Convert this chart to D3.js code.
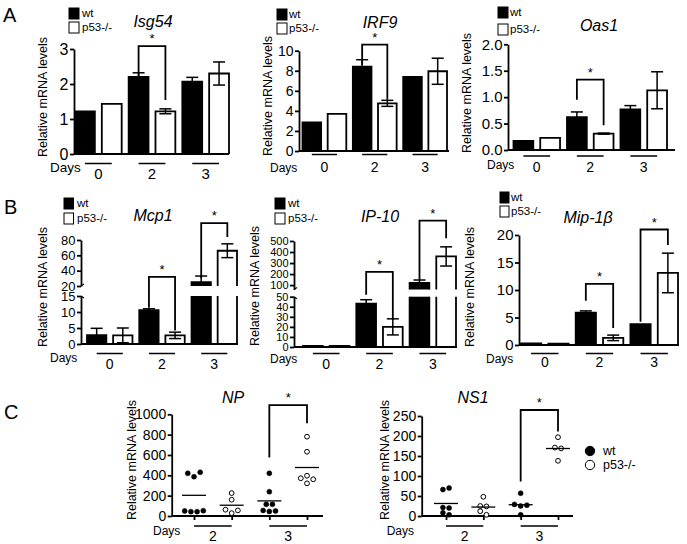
<!DOCTYPE html>
<html><head><meta charset="utf-8">
<script src="https://cdn.jsdelivr.net/npm/d3@7"></script>
<style>
body{margin:0;background:#fff}
svg{display:block}
text{font-family:'Liberation Sans',Arial,Helvetica,sans-serif;fill:#000}
</style>
</head><body>
<svg id="c" width="687" height="544"></svg>
<script>
// ================= DATA =================
const days = ["0", "2", "3"];
const genotypes = ["wt", "p53-/-"];
const yLabel = "Relative mRNA levels";

// Panel A
const isg54Wt = [1.22, 2.20, 2.07], isg54WtErr = [0, 0.12, 0.12];
const isg54Ko = [1.43, 1.22, 2.30], isg54KoErr = [0, 0.07, 0.33];
const isg54Ticks = [0, 1, 2, 3];
const isg54Sig = [[1, 3.08, 2.2, 1.54]]; // [day index, bracket top, wt leg end, ko leg end]

const irf9Wt = [2.85, 8.4, 7.4], irf9WtErr = [0, 0.7, 0];
const irf9Ko = [3.7, 4.75, 7.95], irf9KoErr = [0, 0.3, 1.3];
const irf9Ticks = [0, 2, 4, 6, 8, 10];
const irf9Sig = [[1, 10.6, 8.6, 5.1]];

const oas1Wt = [0.17, 0.62, 0.77], oas1WtErr = [0, 0.1, 0.07];
const oas1Ko = [0.23, 0.31, 1.13], oas1KoErr = [0, 0.01, 0.35];
const oas1Ticks = [0, 0.5, 1.0, 1.5, 2.0];
const oas1Sig = [[1, 1.33, 0.95, 0.47]];

// Panel B
const mcp1Wt = [2.8, 10.6, 25], mcp1WtErr = [2.1, 0.4, 8];
const mcp1Ko = [2.7, 2.7, 66], mcp1KoErr = [2.3, 1.0, 9];
const mcp1TicksLow = [0, 5, 10, 15], mcp1TicksHigh = [20, 40, 60, 80];
const mcp1Sig = [[1, 32, 11.3, 4.2], [2, 102, 30, 84]];

const ip10Wt = [1, 43, 121], ip10WtErr = [0, 4, 25];
const ip10Ko = [1, 20, 360], ip10KoErr = [0, 8, 87];
const ip10TicksLow = [0, 10, 20, 30, 40, 50], ip10TicksHigh = [100, 200, 300, 400, 500];
const ip10Sig = [[1, 220, 52, 27], [2, 684, 146, 525]];

const mip1bWt = [0.3, 5.9, 3.8], mip1bWtErr = [0, 0.3, 0];
const mip1bKo = [0.25, 1.3, 13.1], mip1bKoErr = [0, 0.5, 3.6];
const mip1bTicks = [0, 5, 10, 15, 20];
const mip1bSig = [[1, 11.1, 8.05, 3.1], [2, 21.0, 4.24, 18.2]];

// Panel C (individual animals)
const cDays = ["2", "3"];
const npWtD2 = [420, 387, 430, 49, 43, 43, 52];
const npKoD2 = [225, 160, 62, 28, 55];
const npWtD3 = [420, 239, 115, 115, 55, 45, 50];
const npKoD3 = [780, 632, 371, 396, 361, 321];
const npTicks = [0, 200, 400, 600, 800, 1000];
const npSig = [1091, 574, 911];

const ns1WtD2 = [66, 70, 21, 20, 8, 3];
const ns1KoD2 = [48, 25, 24, 12, 3];
const ns1WtD3 = [57, 29, 25, 27, 3];
const ns1KoD3 = [197, 171, 169, 138];
const ns1Ticks = [0, 50, 100, 150, 200, 250];
const ns1Sig = [265, 86, 211];

// ================= DRAWING =================
const svg = d3.select("#c");
const SW = 1.8;

function txt(g, x, y, s, o = {}) {
  return g.append("text").attr("x", x).attr("y", y).text(s)
    .attr("font-size", o.size || 12)
    .attr("text-anchor", o.anchor || "start")
    .attr("font-style", o.italic ? "italic" : null);
}
function line(g, x1, y1, x2, y2, w = SW) {
  return g.append("line").attr("x1", x1).attr("y1", y1).attr("x2", x2).attr("y2", y2)
    .attr("stroke", "#000").attr("stroke-width", w);
}
function yAxis(g, x, scale, ticks, size, fmt) {
  const a = g.append("g").attr("transform", `translate(${x},0)`)
    .call(d3.axisLeft(scale).tickValues(ticks).tickSize(4).tickSizeOuter(0).tickPadding(1.5)
      .tickFormat(fmt || (d => d)));
  a.attr("font-family", null).attr("font-size", size);
  a.select(".domain").attr("stroke-width", SW);
  a.selectAll(".tick line").attr("stroke-width", SW);
  a.selectAll(".tick text").attr("fill", "#000");
  return a;
}
function yTitle(g, x, y, size) {
  g.append("text").attr("transform", `translate(${x},${y}) rotate(-90)`)
    .attr("text-anchor", "middle").attr("font-size", size || 12.5).text(yLabel);
}

function barPanel(p, d) {
  const g = svg.append("g");
  const x = d3.scaleBand().domain(d3.range(6)).range(p.band).paddingInner(0.26).paddingOuter(0);
  const bw = x.bandwidth();
  const cx = k => x(k) + bw / 2;
  const segs = p.segs.map(s => ({ lo: s.domain[0], hi: s.domain[1],
    y: d3.scaleLinear().domain(s.domain).range(s.range), ticks: s.ticks }));
  const Y = v => (segs.length === 1 || v < segs[1].lo) ? segs[0].y(v) : segs[1].y(v);
  const segOf = v => (segs.length === 1 || v < segs[1].lo) ? segs[0] : segs[1];

  const bars = [];
  days.forEach((dd, i) => {
    bars.push({ k: 2 * i, v: d.wt[i], e: d.wtErr[i], fill: "#000" });
    bars.push({ k: 2 * i + 1, v: d.ko[i], e: d.koErr[i], fill: "#fff" });
  });

  segs.forEach(s => {
    bars.filter(b => b.v > s.lo).forEach(b => {
      const top = Math.min(b.v, s.hi), cut = b.v > s.hi;
      const y0 = s.y(s.lo), y1 = s.y(top), xl = x(b.k), xr = x(b.k) + bw;
      g.append("rect").attr("x", xl).attr("y", y1).attr("width", bw).attr("height", y0 - y1)
        .attr("fill", b.fill);
      const path = cut ? `M${xl},${y0}V${y1}M${xr},${y1}V${y0}` : `M${xl},${y0}V${y1}H${xr}V${y0}`;
      g.append("path").attr("d", path).attr("fill", "none").attr("stroke", "#000").attr("stroke-width", SW);
    });
  });
  bars.filter(b => b.e > 0).forEach(b => {
    const s = segOf(b.v);
    const lo = Math.max(b.v - b.e, s.lo), hi = b.v + b.e, c = cx(b.k);
    line(g, c, Y(lo), c, Y(hi), 1.5);
    line(g, c - 6, Y(hi), c + 6, Y(hi), 1.5);
    if (b.v - b.e >= s.lo) line(g, c - 6, Y(lo), c + 6, Y(lo), 1.5);
  });

  segs.forEach((s, si) => {
    yAxis(g, p.axisX, s.y, s.ticks, p.tickFont, p.fmt);
    if (segs.length > 1) {
      const yb = si === 0 ? s.y(s.hi) : s.y(s.lo);
      line(g, p.axisX, yb, p.axisX + 3, yb + (si === 0 ? 2 : -2), 1.2);
    }
  });
  line(g, p.axisX, segs[0].y(0), p.axisEnd, segs[0].y(0));

  d.sig.forEach(([di, top, le, re]) => {
    const xl = cx(2 * di), xr = cx(2 * di + 1);
    g.append("path").attr("d", `M${xl},${Y(le)}V${Y(top)}H${xr}V${Y(re)}`)
      .attr("fill", "none").attr("stroke", "#000").attr("stroke-width", SW);
    txt(g, (xl + xr) / 2, Y(top) - 3, "*", { size: 13, anchor: "middle" });
  });

  days.forEach((dd, i) => {
    const xl = cx(2 * i), xr = cx(2 * i + 1);
    line(g, xl, p.ulY, xr, p.ulY, 1.5);
    txt(g, (xl + xr) / 2, p.dnY, dd, { size: p.dayFont, anchor: "middle" });
  });
  txt(g, p.daysX, p.daysY, "Days", { size: p.daysFont });

  txt(g, p.titleX, p.titleY, p.title, { size: 16, anchor: "middle", italic: true });
  yTitle(g, p.ylX, p.ylY, 12.5);
  const L = p.legend;
  genotypes.forEach((gt, i) => {
    g.append("rect").attr("x", L.x).attr("y", L.ys[i]).attr("width", L.w).attr("height", 11)
      .attr("fill", i === 0 ? "#000" : "#fff").attr("stroke", "#000").attr("stroke-width", 1);
    txt(g, L.tx, L.ys[i] + 9, gt, { size: 11.5 });
  });
}

function dotPanel(p, groups, sig) {
  const g = svg.append("g");
  const y = d3.scaleLinear().domain(p.yDomain).range(p.yRange);
  const pos = d3.scalePoint().domain(d3.range(4)).range(p.xRange);

  yAxis(g, p.axisX, y, p.ticks, 14);
  const xa = g.append("g").attr("transform", `translate(0,${y(0)})`)
    .call(d3.axisBottom(pos).tickSize(4).tickFormat(""));
  xa.select(".domain").remove();
  xa.selectAll(".tick line").attr("stroke-width", SW);
  line(g, p.axisX, y(0), p.axisEnd, y(0));

  groups.forEach((vals, gi) => {
    const filled = gi % 2 === 0;
    const pts = vals.map((v, i) => ({ v, i, py: y(v) }));
    const rows = []; let cur = null;
    pts.slice().sort((a, b) => a.py - b.py).forEach(pt => {
      if (!cur || pt.py - cur[0].py > 4.5) { cur = [pt]; rows.push(cur); } else cur.push(pt);
    });
    rows.forEach(r => { r.sort((a, b) => a.i - b.i); r.forEach((pt, k) => pt.dx = (k - (r.length - 1) / 2) * 6.2); });
    g.selectAll(null).data(pts).join("circle")
      .attr("cx", d => pos(gi) + d.dx).attr("cy", d => d.py)
      .attr("r", filled ? 2.5 : 2.4)
      .attr("fill", filled ? "#000" : "#fff").attr("stroke", "#000").attr("stroke-width", filled ? 0.5 : 1);
    const m = y(d3.mean(vals));
    line(g, pos(gi) - 12, m, pos(gi) + 12, m, 1.3);
  });

  const [top, le, re] = sig, xl = pos(2), xr = pos(3);
  g.append("path").attr("d", `M${xl},${y(le)}V${y(top)}H${xr}V${y(re)}`)
    .attr("fill", "none").attr("stroke", "#000").attr("stroke-width", SW);
  txt(g, (xl + xr) / 2, y(top) - 3, "*", { size: 13, anchor: "middle" });

  cDays.forEach((dd, i) => {
    const a = pos(2 * i), b = pos(2 * i + 1);
    line(g, a, p.ulY, b, p.ulY, 1.5);
    txt(g, (a + b) / 2, p.dnY, dd, { size: 14, anchor: "middle" });
  });
  txt(g, p.daysX, p.daysY, "Days", { size: 12 });
  txt(g, p.titleX, p.titleY, p.title, { size: 16, anchor: "middle", italic: true });
  yTitle(g, p.ylX, p.ylY, 12.5);
}

// panel letters
txt(svg, 3, 22, "A", { size: 20 });
txt(svg, 4, 214, "B", { size: 20 });
txt(svg, 4, 419, "C", { size: 20 });

barPanel({ axisX: 74, band: [75, 229], axisEnd: 229,
  segs: [{ domain: [0, 3], range: [154, 49], ticks: isg54Ticks }], tickFont: 16,
  title: "Isg54", titleX: 153, titleY: 27, ylX: 47, ylY: 97,
  daysX: 50, daysY: 172, daysFont: 13.5, ulY: 163.5, dnY: 179, dayFont: 15,
  legend: { x: 69, w: 10, ys: [8, 22], tx: 82 } },
  { wt: isg54Wt, wtErr: isg54WtErr, ko: isg54Ko, koErr: isg54KoErr, sig: isg54Sig });

barPanel({ axisX: 299, band: [302.5, 447], axisEnd: 449,
  segs: [{ domain: [0, 10], range: [151, 50.7], ticks: irf9Ticks }], tickFont: 14,
  title: "IRF9", titleX: 380, titleY: 28, ylX: 272, ylY: 96,
  daysX: 270, daysY: 171.5, daysFont: 12, ulY: 154.5, dnY: 172, dayFont: 14,
  legend: { x: 277, w: 10, ys: [9, 23], tx: 289 } },
  { wt: irf9Wt, wtErr: irf9WtErr, ko: irf9Ko, koErr: irf9KoErr, sig: irf9Sig });

barPanel({ axisX: 508, band: [513.5, 667], axisEnd: 675,
  segs: [{ domain: [0, 2], range: [150, 44.3], ticks: oas1Ticks }], tickFont: 15, fmt: d3.format(".1f"),
  title: "Oas1", titleX: 599, titleY: 31, ylX: 471, ylY: 93,
  daysX: 487, daysY: 168.5, daysFont: 12, ulY: 156, dnY: 172, dayFont: 14,
  legend: { x: 498, w: 10, ys: [7, 24], tx: 510 } },
  { wt: oas1Wt, wtErr: oas1WtErr, ko: oas1Ko, koErr: oas1KoErr, sig: oas1Sig });

barPanel({ axisX: 81, band: [87, 237], axisEnd: 238,
  segs: [{ domain: [0, 15], range: [344, 296], ticks: mcp1TicksLow },
         { domain: [20, 80], range: [286, 240], ticks: mcp1TicksHigh }], tickFont: 13,
  title: "Mcp1", titleX: 153, titleY: 221, ylX: 47, ylY: 287,
  daysX: 50, daysY: 362, daysFont: 12, ulY: 353.5, dnY: 368.5, dayFont: 14,
  legend: { x: 64, w: 9.5, ys: [198, 213], tx: 77 } },
  { wt: mcp1Wt, wtErr: mcp1WtErr, ko: mcp1Ko, koErr: mcp1KoErr, sig: mcp1Sig });

barPanel({ axisX: 294, band: [303, 456], axisEnd: 457,
  segs: [{ domain: [0, 50], range: [347, 296.7], ticks: ip10TicksLow },
         { domain: [60, 500], range: [289.5, 241], ticks: ip10TicksHigh }], tickFont: 11,
  title: "IP-10", titleX: 380, titleY: 222, ylX: 258.5, ylY: 286,
  daysX: 270, daysY: 362.5, daysFont: 12, ulY: 353.5, dnY: 368.5, dayFont: 14,
  legend: { x: 275, w: 10, ys: [198, 213], tx: 288 } },
  { wt: ip10Wt, wtErr: ip10WtErr, ko: ip10Ko, koErr: ip10KoErr, sig: ip10Sig });

barPanel({ axisX: 519, band: [521, 678], axisEnd: 679,
  segs: [{ domain: [0, 20], range: [345, 235], ticks: mip1bTicks }], tickFont: 15,
  title: "Mip-1β", titleX: 588, titleY: 223, ylX: 474, ylY: 287,
  daysX: 486, daysY: 363, daysFont: 12, ulY: 353.5, dnY: 367, dayFont: 14,
  legend: { x: 500, w: 9, ys: [192, 206], tx: 511 } },
  { wt: mip1bWt, wtErr: mip1bWtErr, ko: mip1bKo, koErr: mip1bKoErr, sig: mip1bSig });

dotPanel({ axisX: 171.7, axisEnd: 323, yDomain: [0, 1000], yRange: [516, 414.3], ticks: npTicks,
  xRange: [194, 307], title: "NP", titleX: 233, titleY: 403, ylX: 136, ylY: 460,
  daysX: 153, daysY: 535, ulY: 526, dnY: 541 },
  [npWtD2, npKoD2, npWtD3, npKoD3], npSig);

dotPanel({ axisX: 421.7, axisEnd: 573, yDomain: [0, 250], yRange: [516, 416], ticks: ns1Ticks,
  xRange: [446, 558], title: "NS1", titleX: 473, titleY: 403, ylX: 389, ylY: 460,
  daysX: 386.7, daysY: 535, ulY: 526, dnY: 541 },
  [ns1WtD2, ns1KoD2, ns1WtD3, ns1KoD3], ns1Sig);

const lg = svg.append("g");
genotypes.forEach((gt, i) => {
  lg.append("circle").attr("cx", 590).attr("cy", 451 + i * 14).attr("r", 4.7)
    .attr("fill", i === 0 ? "#000" : "#fff").attr("stroke", "#000").attr("stroke-width", 1);
  txt(lg, 603, 455 + i * 14, gt, { size: 12.5 });
});
</script>
</body></html>
